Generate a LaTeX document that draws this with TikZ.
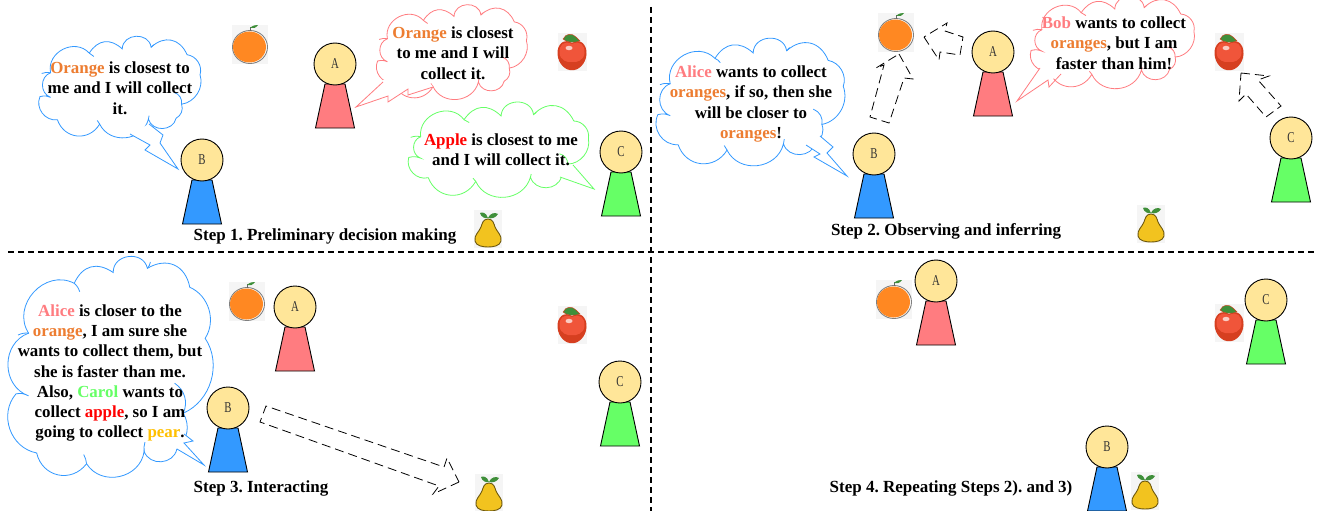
\documentclass[tikz,border=0pt]{standalone}
\usepackage{fontspec}
\setmainfont{Liberation Serif}
\newfontfamily\narrowf[FakeStretch=0.72]{Liberation Serif}
\definecolor{pa}{HTML}{FF7C80}
\definecolor{pb}{HTML}{3399FF}
\definecolor{pc}{HTML}{66FF66}
\definecolor{headc}{HTML}{FFE699}
\definecolor{orangetxt}{HTML}{ED7D31}
\definecolor{peartxt}{HTML}{FFC000}
\definecolor{orangefr}{HTML}{FF8822}
\definecolor{appledk}{HTML}{D63F20}
\definecolor{applelt}{HTML}{F0553A}
\definecolor{pearfr}{HTML}{F2C31F}
\definecolor{leafgr}{HTML}{3F8F3A}
\newcommand{\Or}[1]{\textcolor{orangetxt}{#1}}
\newcommand{\Ap}[1]{\textcolor{red}{#1}}
\newcommand{\Pe}[1]{\textcolor{peartxt}{#1}}
\newcommand{\Al}[1]{\textcolor{pa}{#1}}
\newcommand{\Ca}[1]{\textcolor{pc}{#1}}
\tikzset{
  speech/.style={font=\frenchspacing\fontsize{16.9}{20.3}\selectfont\bfseries,align=center,inner sep=0pt,text=black},
  steplabel/.style={font=\frenchspacing\fontsize{17}{18}\selectfont\bfseries,inner sep=0pt,text=black},
  headnode/.style={circle,draw=black,fill=headc,line width=0.9pt,minimum size=42pt,inner sep=0pt,font=\narrowf\fontsize{15}{15}\selectfont,text=black!80},
  bodyshape/.style={draw=black,line width=0.9pt},
  divider/.style={draw=black,dashed,line width=1.2pt,dash pattern=on 6pt off 4pt},
  movearrow/.style={draw=black,line width=0.8pt,dash pattern=on 9pt off 5pt},
  fruitbg/.style={fill=black!4,draw=none},
  pics/orangefruit/.style={code={
    \path[fruitbg] (-18,-20) rectangle (18,19);
    \path[draw=black!50,line width=0.9pt,fill=white] (0,2) ellipse (17.5 and 16.5);
    \path[fill=orangefr] (-0.5,2) ellipse (16.5 and 15.5);
    \draw[black!60,line width=0.8pt] (0,-14) -- (0,-18);
    \path[fill=leafgr] (0,-17) .. controls (3,-20) and (6,-20) .. (8,-20) .. controls (6,-17) and (3,-16) .. (0,-17) -- cycle;
  }},
  pics/applefruit/.style={code={
    \path[fruitbg] (-14.5,-19) rectangle (14.5,19);
    \path[fill=appledk,draw=none] (0,-9) .. controls (8,-14) and (15,-8) .. (14.5,2) .. controls (14,12) and (6,19) .. (0,18) .. controls (-6,19) and (-14,12) .. (-14.5,2) .. controls (-15,-8) and (-8,-14) .. (0,-9) -- cycle;
    \path[fill=applelt] (0,-8) .. controls (8,-12) and (13,-7) .. (12.5,1) .. controls (12,8) and (5,11) .. (0,10) .. controls (-5,11) and (-12,8) .. (-12.5,1) .. controls (-13,-7) and (-8,-12) .. (0,-8) -- cycle;
    \path[fill=white,opacity=.7] (-3,-4) ellipse (3.5 and 2.2);
    \path[fill=leafgr,draw=appledk,line width=0.4pt] (-9,-13) .. controls (-6,-19) and (0,-19) .. (4,-15) .. controls (6,-13) and (7,-12) .. (8,-11) .. controls (2,-9) and (-5,-9) .. (-9,-13) -- cycle;
  }},
  pics/pearfruit/.style={code={
    \path[fruitbg] (-14,-19) rectangle (14,19);
    \path[fill=pearfr,draw=black!55!pearfr,line width=0.9pt] (0,-10) .. controls (5,-10) and (6,-5) .. (7,-2) .. controls (9,3) and (14,6) .. (13,12) .. controls (12,17) and (5,18) .. (0,18) .. controls (-5,18) and (-12,17) .. (-13,12) .. controls (-14,6) and (-9,3) .. (-7,-2) .. controls (-6,-5) and (-5,-10) .. (0,-10) -- cycle;
    \path[fill=leafgr] (0,-11) .. controls (-2,-17) and (-6,-17) .. (-8,-16) .. controls (-7,-12) and (-3,-10) .. (0,-11) -- cycle;
    \path[fill=leafgr] (0,-11) .. controls (2,-16) and (7,-17) .. (10,-15) .. controls (8,-11) and (3,-10) .. (0,-11) -- cycle;
  }}
}
% x0,y0,w,h,colour
\newcommand{\cloudshape}[5]{%
\begin{scope}[shift={(#1,#2)},x=#3pt,y=-#4pt]
  \draw[#5,line width=0.8pt,fill=white,bend left=75,looseness=1.25]
   (0.097,0.334) to (0.323,0.121) to[bend left=50] (0.516,0.075) to[bend left=85,looseness=1.4] (0.685,0.057)
   to[bend left=55] (0.895,0.138) to[bend left=50,looseness=1] (0.971,0.356) to[bend left=50,looseness=1] (0.863,0.676)
   to[bend left=40,looseness=1] (0.831,0.829) to[bend left=75] (0.669,0.839) to[bend left=70,looseness=1.2] (0.384,0.892)
   to[bend left=65] (0.137,0.846) to[bend left=60,looseness=1.1] (0.035,0.593) to[bend left=15] (0.097,0.602)
   to[bend left=70,looseness=1.2] (0.097,0.334) -- cycle;
  \draw[#5,line width=0.8pt] (0.097,0.334) to[bend right=15] (0.045,0.342)
    (0.323,0.121) to[bend left=15] (0.35,0.157)
    (0.685,0.057) to[bend right=15] (0.70,0.03)
    (0.863,0.676) to[bend right=40] (0.82,0.548)
    (0.669,0.839) to[bend left=10] (0.673,0.80)
    (0.384,0.892) to[bend right=10] (0.37,0.853);
\end{scope}}
% name,x,y,letter,colour
\newcommand{\person}[5]{%
  \path[bodyshape,fill=#5] (#2-10,#3+20) -- (#2+10,#3+20) -- (#2+19.5,#3+64) -- (#2-19.5,#3+64) -- cycle;
  \node[headnode] (#1) at (#2,#3) {#4};}
\begin{document}
\begin{tikzpicture}[x=1pt,y=-1pt]
\useasboundingbox (0,0) rectangle (1318,511);
\path[fill=white] (0,0) rectangle (1318,511);
% dividers
\coordinate (vt) at (651,7); \coordinate (vb) at (651,511);
\coordinate (hl) at (8,252); \coordinate (hr) at (1318,252);
\draw[divider] (vt) -- (vb);
\draw[divider] (hl) -- (hr);
% fruits
\pic (o1) at (250,45) {orangefruit};
\pic (o2) at (896,33) {orangefruit};
\pic (o3) at (247,302) {orangefruit};
\pic (o4) at (894,300) {orangefruit};
\pic (a1) at (572,52) {applefruit};
\pic (a2) at (1229,52) {applefruit};
\pic (a3) at (572,325) {applefruit};
\pic (a4) at (1229,323) {applefruit};
\pic (p1) at (488,229) {pearfruit};
\pic (p2) at (1151,224) {pearfruit};
\pic (p3) at (489,493) {pearfruit};
\pic (p4) at (1145,491) {pearfruit};
% persons
\person{A1}{335}{64}{A}{pa}
\person{B1}{202}{160}{B}{pb}
\person{C1}{621}{152}{C}{pc}
\person{A2}{993}{52}{A}{pa}
\person{B2}{874}{154}{B}{pb}
\person{C2}{1291}{138}{C}{pc}
\person{A3}{295}{307}{A}{pa}
\person{B3}{228}{408}{B}{pb}
\person{C3}{620}{382}{C}{pc}
\person{A4}{936}{281}{A}{pa}
\person{B4}{1107}{447}{B}{pb}
\person{C4}{1266}{300}{C}{pc}
% clouds + tails
\cloudshape{34}{42}{171}{92}{pb}
\path[fill=white] (130,134) -- (150,145) -- (145,150) -- (178,169) -- (160,143) -- (163,135) -- (149,124) -- cycle;
\draw[pb,line width=0.8pt] (130,134) -- (150,145) -- (145,150) -- (178,169) -- (160,143) -- (163,135) -- (149,124);
\cloudshape{372}{10}{159}{86}{pa}
\path[fill=white] (383,80) -- (356,107) -- (388,96) -- (388,102) -- (408,89) -- (408,95) -- (433,87) -- (420,70) -- cycle;
\draw[pa,line width=0.8pt] (383,82) -- (356,107) -- (388,96) -- (388,102) -- (408,89) -- (408,95) -- (433,87);
\cloudshape{402}{110}{192}{80}{pc}
\path[fill=white] (573,165) -- (594,189) -- (560,177) -- (555,165) -- cycle;
\draw[pc,line width=0.8pt] (573,165) -- (594,189) -- (560,177);
\cloudshape{651}{44}{198}{119}{pb}
\path[fill=white] (820,136) -- (833,147) -- (827,153) -- (847,176) -- (814,157) -- (820,154) -- (806,145) -- cycle;
\draw[pb,line width=0.8pt] (820,136) -- (833,147) -- (827,153) -- (847,176) -- (814,157) -- (820,154) -- (806,145);
\cloudshape{1025}{3}{174}{80}{pa}
\path[fill=white] (1040,68) -- (1017,101) -- (1048,87) -- (1051,80) -- (1061,74) -- (1050,60) -- cycle;
\draw[pa,line width=0.8pt] (1040,68) -- (1017,101) -- (1048,80) -- (1049,87) -- (1061,74);
\cloudshape{9}{255}{202}{234}{pb}
\path[fill=white] (184,434) -- (193,441) -- (184,443) -- (204,465) -- (177,449) -- (170,440) -- cycle;
\draw[pb,line width=0.8pt] (184,434) -- (193,441) -- (184,443) -- (204,465) -- (177,449);
% speech
\node[speech] (s1) at (120,88) {\Or{Orange} is closest to\\me and I will collect\\it.};
\node[speech] (s2) at (453,53) {\Or{Orange} is closest\\to me and I will\\collect it.};
\node[speech] (s3) at (501,150) {\Ap{Apple} is closest to me\\and I will collect it.};
\node[speech] (s4) at (751,104) {\Al{Alice} wants to collect\\\Or{oranges}, if so, then she\\will be closer to\\\Or{oranges}!};
\node[speech] (s5) at (1114,43) {\Al{Bob} wants to collect\\\Or{oranges}, but I am\\faster than him!};
\node[speech] (s6) at (110,373) {\Al{Alice} is closer to the\\\Or{orange}, I am sure she\\wants to collect them, but\\she is faster than me.\\Also, \Ca{Carol} wants to\\collect \Ap{apple}, so I am\\going to collect \Pe{pear}.};
% dashed arrows
\draw[movearrow] (924,37) -- (939,60) -- (940,52) -- (960,55) -- (963,37) -- (945,31) -- (947,23) -- cycle;
\draw[movearrow] (899,54) -- (913,79) -- (904,78) -- (889,123) -- (870,117) -- (884,65) -- (876,68) -- cycle;
\draw[movearrow] (1241,73) -- (1269,76) -- (1258,80) -- (1281,106) -- (1266,117) -- (1246,94) -- (1239,101) -- cycle;
\draw[movearrow] (459,482) -- (433,494) -- (439,486) -- (260,422) -- (266,406) -- (444,467) -- (447,458) -- cycle;
% step labels
\node[steplabel] (t1) at (325,236.5) {Step 1. Preliminary decision making};
\node[steplabel] (t2) at (946,231) {Step 2. Observing and inferring};
\node[steplabel] (t3) at (261,488) {Step 3. Interacting};
\node[steplabel] (t4) at (951,488) {Step 4. Repeating Steps 2). and 3)};
\end{tikzpicture}
\end{document}
